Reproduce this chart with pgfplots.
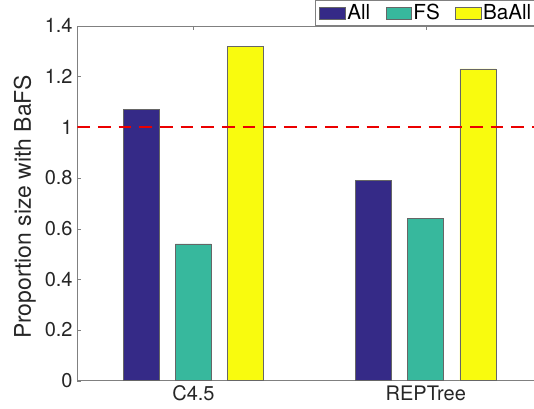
\documentclass[border=0pt]{standalone}
\usepackage{fontspec}
\setmainfont{TeX Gyre Heros}
\usepackage{pgfplots}
\pgfplotsset{compat=1.18}
\definecolor{cAll}{RGB}{53,42,135}
\definecolor{cFS}{RGB}{55,184,157}
\definecolor{cBa}{RGB}{249,251,14}
\definecolor{refred}{RGB}{235,0,0}
\begin{document}
\begin{tikzpicture}
\begin{axis}[
  scale only axis, width=348.5pt, height=266.2pt,
  xmin=0.5, xmax=2.5, ymin=0, ymax=1.4,
  xtick={1,2}, xticklabels={C4.5,REPTree},
  ytick={0,0.2,0.4,0.6,0.8,1,1.2,1.4},
  yticklabels={0,0.2,0.4,0.6,0.8,1,1.2,1.4},
  tick label style={font=\fontsize{15}{18}\selectfont, text=black!85},
  label style={font=\fontsize{17.2}{20}\selectfont, text=black!85},
  ylabel={Proportion size with BaFS},
  ylabel style={at={(axis description cs:-0.079,0.49)}, anchor=south},
  axis line style={black!50}, major tick style={black!50},
  major tick length=3pt, tick align=inside,
  legend columns=-1,
  legend style={at={(0.512,1)}, anchor=south west, draw=black!50, fill=white,
    font=\fontsize{15.5}{15.5}\selectfont, inner xsep=3pt, inner ysep=1.5pt,
    nodes={inner sep=1.5pt},
    /tikz/every even column/.append style={column sep=10pt}},
  legend image code/.code={\draw[#1] (0pt,-4.5pt) rectangle (19pt,4.5pt);},
]
\addplot[ybar, bar width=0.155, bar shift=-0.224, fill=cAll, draw=black!60] coordinates {(1,1.07) (2,0.79)};
\addplot[ybar, bar width=0.155, bar shift=0, fill=cFS, draw=black!60] coordinates {(1,0.54) (2,0.64)};
\addplot[ybar, bar width=0.155, bar shift=0.224, fill=cBa, draw=black!60] coordinates {(1,1.32) (2,1.23)};
\addplot[refred, forget plot, line width=1.4pt, dash pattern=on 9.5pt off 6pt] coordinates {(0.5,1) (2.5,1)};
\coordinate (bbsw) at (axis cs:0.1672,-0.1112);
\coordinate (bbne) at (axis cs:2.466,1.502);
\legend{All,FS,BaAll}
\end{axis}
\pgfresetboundingbox
\useasboundingbox (bbsw) rectangle (bbne);
\end{tikzpicture}
\end{document}
